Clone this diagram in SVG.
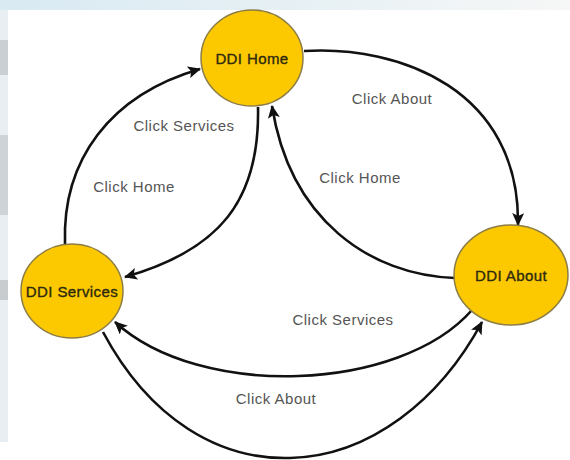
<svg xmlns="http://www.w3.org/2000/svg" width="570" height="460" viewBox="0 0 570 460">
<style>
.node{fill:#fcc800;stroke:#8c7d45;stroke-width:1.5}
.nl{font-family:"Liberation Sans",Arial,sans-serif;font-size:15px;letter-spacing:0.4px;fill:#2e2a10;text-anchor:middle;stroke:#2e2a10;stroke-width:0.35}
.el{font-family:"Liberation Sans",Arial,sans-serif;font-size:15px;letter-spacing:0.5px;fill:#555;text-anchor:middle}
.edge{fill:none;stroke:#111;stroke-width:2.6}
</style>
<defs>
<linearGradient id="top" x1="0" y1="0" x2="1" y2="0">
<stop offset="0" stop-color="#d9eaf3"/>
<stop offset="0.5" stop-color="#e6f0f4"/>
<stop offset="1" stop-color="#f6f7f7"/>
</linearGradient>
<marker id="arr" markerWidth="14" markerHeight="12" refX="12" refY="6" orient="auto" markerUnits="userSpaceOnUse">
<path d="M0,0 L13,6 L0,12 L3,6 z" fill="#111"/>
</marker>
</defs>
<rect width="570" height="460" fill="#fff"/>
<rect x="0" y="0" width="570" height="10" fill="url(#top)"/>
<rect x="0" y="10" width="8" height="432" fill="#e8eef1"/>
<rect x="0" y="40" width="8" height="35" fill="#c9cfd3"/>
<rect x="0" y="135" width="8" height="80" fill="#cdd3d6"/>
<rect x="0" y="280" width="8" height="20" fill="#c8cccf"/>
<g id="connectors">
<path class="edge" d="M65,244 C62,160 110,95 200,69" marker-end="url(#arr)"/>
<path class="edge" d="M258,107 C260,200 220,250 125,277" marker-end="url(#arr)"/>
<path class="edge" d="M304,51 C400,45 520,90 518,225" marker-end="url(#arr)"/>
<path class="edge" d="M455,278 C370,275 290,220 272,106" marker-end="url(#arr)"/>
<path class="edge" d="M472,310 C400,392 200,400 115,322" marker-end="url(#arr)"/>
<path class="edge" d="M103,332 C150,420 220,460 290,458 C370,456 440,400 482,322" marker-end="url(#arr)"/>
<text class="el" x="184" y="131">Click Services</text>
<text class="el" x="134" y="192">Click Home</text>
<text class="el" x="392" y="104">Click About</text>
<text class="el" x="360" y="183">Click Home</text>
<text class="el" x="343" y="325">Click Services</text>
<text class="el" x="276" y="404">Click About</text>
</g>
<g id="home">
<ellipse class="node" cx="252" cy="58" rx="51" ry="48"/>
<text class="nl" x="252" y="64">DDI Home</text>
</g>
<g id="services">
<ellipse class="node" cx="72" cy="291" rx="51" ry="47"/>
<text class="nl" x="72" y="297">DDI Services</text>
</g>
<g id="about">
<ellipse class="node" cx="511" cy="275" rx="57" ry="50"/>
<text class="nl" x="511" y="281">DDI About</text>
</g>
</svg>
